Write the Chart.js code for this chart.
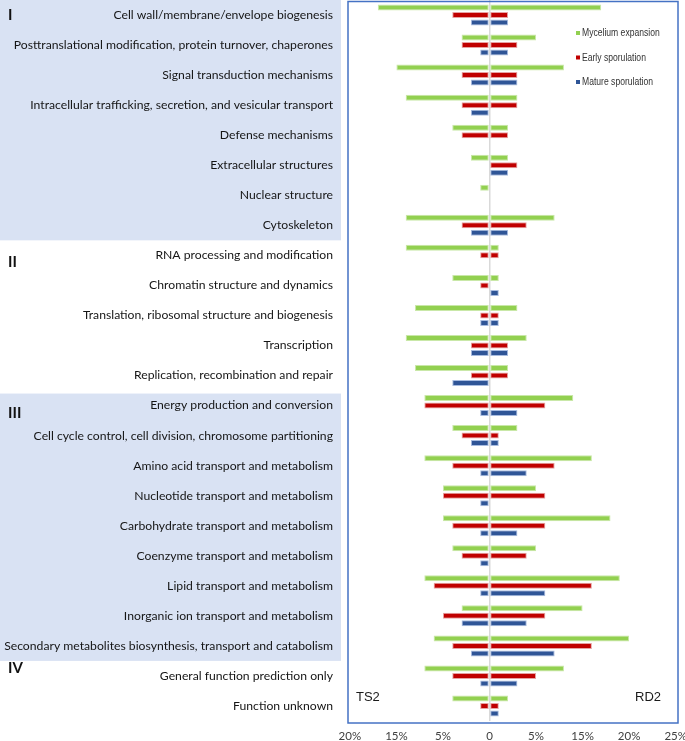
<!DOCTYPE html>
<html>
<head>
<meta charset="utf-8">
<script src="https://cdn.jsdelivr.net/npm/chart.js@4"></script>
<style>
  html, body { margin: 0; padding: 0; background: #ffffff; }
  #wrap { position: relative; width: 685px; height: 741px; }
</style>
</head>
<body>
<div id="wrap"><canvas id="c" width="685" height="741"></canvas></div>
<script>
// ---------- DATA ----------
const categories = [
  'Cell wall/membrane/envelope biogenesis',
  'Posttranslational modification, protein turnover, chaperones',
  'Signal transduction mechanisms',
  'Intracellular trafficking, secretion, and vesicular transport',
  'Defense mechanisms',
  'Extracellular structures',
  'Nuclear structure',
  'Cytoskeleton',
  'RNA processing and modification',
  'Chromatin structure and dynamics',
  'Translation, ribosomal structure and biogenesis',
  'Transcription',
  'Replication, recombination and repair',
  'Energy production and conversion',
  'Cell cycle control, cell division, chromosome partitioning',
  'Amino acid transport and metabolism',
  'Nucleotide transport and metabolism',
  'Carbohydrate transport and metabolism',
  'Coenzyme transport and metabolism',
  'Lipid transport and metabolism',
  'Inorganic ion transport and metabolism',
  'Secondary metabolites biosynthesis, transport and catabolism',
  'General function prediction only',
  'Function unknown'
];

const seriesNames = ['Mycelium expansion', 'Early sporulation', 'Mature sporulation'];

// left side (TS2), magnitudes
const myceliumTS2 = [12, 3, 10, 9, 4, 2, 1, 9, 9, 4, 8, 9, 8, 7, 4, 7, 5, 5, 4, 7, 3, 6, 7, 4];
const earlyTS2    = [ 4, 3,  3, 3, 3, 0, 0, 3, 1, 1, 1, 2, 2, 7, 3, 4, 5, 4, 3, 6, 5, 4, 4, 1];
const matureTS2   = [ 2, 1,  2, 2, 0, 0, 0, 2, 0, 0, 1, 2, 4, 1, 2, 1, 1, 1, 1, 1, 3, 2, 1, 0];
// right side (RD2)
const myceliumRD2 = [12, 5,  8, 3, 2, 2, 0, 7, 1, 1, 3, 4, 2, 9, 3, 11, 5, 13, 5, 14, 10, 15, 8, 2];
const earlyRD2    = [ 2, 3,  3, 3, 2, 3, 0, 4, 1, 0, 1, 2, 2, 6, 1, 7, 6, 6, 4, 11, 6, 11, 5, 1];
const matureRD2   = [ 2, 2,  3, 0, 0, 2, 0, 2, 0, 1, 1, 2, 0, 3, 1, 4, 0, 3, 0, 6, 4, 7, 3, 1];

const tickValues = [-15, -10, -5, 0, 5, 10, 15, 20];
const tickLabels = ['20%', '15%', '5%', '0', '5%', '15%', '20%', '25%'];

const groupNames   = ['I', 'II', 'III', 'IV'];
const groupStart   = [0, 8, 13, 22];
const groupEnd     = [7, 12, 21, 23];
const groupShaded  = [true, false, true, false];

const sideLabels = ['TS2', 'RD2'];

// ---------- STYLE ----------
const fillColors   = ['#92D050', '#C00000', '#2F5597'];
const borderColors = ['#C9E8A8', '#E6A3A3', '#A8BCE0'];
const numeralShift = [0, 7, 8, -8];
const shadeColor = '#D9E2F3';

const toNeg = a => a.map(v => -v);
const leftSets = [myceliumTS2, earlyTS2, matureTS2];
const rightSets = [myceliumRD2, earlyRD2, matureRD2];

const datasets = [];
for (let i = 0; i < 3; i++) {
  const common = {
    stack: 's' + i,
    backgroundColor: fillColors[i],
    borderColor: borderColors[i],
    borderWidth: 1,
    borderSkipped: false,
    categoryPercentage: 0.75,
    barPercentage: 0.8
  };
  datasets.push(Object.assign({ label: seriesNames[i], data: toNeg(leftSets[i]) }, common));
  datasets.push(Object.assign({ label: seriesNames[i] + ' RD2', data: rightSets[i] }, common));
}

const decor = {
  id: 'decor',
  beforeDraw(chart) {
    const ctx = chart.ctx;
    const y = chart.scales.y;
    ctx.save();
    ctx.fillStyle = '#ffffff';
    ctx.fillRect(0, 0, chart.width, chart.height);
    const half = (y.getPixelForValue(1) - y.getPixelForValue(0)) / 2;
    for (let g = 0; g < groupNames.length; g++) {
      if (!groupShaded[g]) continue;
      let top = y.getPixelForValue(groupStart[g]) - half + 3;
      if (groupStart[g] === 0) top = 0;
      const bottom = y.getPixelForValue(groupEnd[g]) + half;
      ctx.fillStyle = shadeColor;
      ctx.fillRect(0, top, chart.chartArea.left - 7, bottom - top);
    }
    ctx.restore();
  },
  afterDraw(chart) {
    const ctx = chart.ctx;
    const ca = chart.chartArea;
    const y = chart.scales.y;
    ctx.save();
    // box
    ctx.strokeStyle = '#4472C4';
    ctx.lineWidth = 1.5;
    ctx.strokeRect(ca.left, ca.top + 1.5, ca.right - ca.left, ca.bottom - ca.top + 0.5);
    // side labels
    ctx.fillStyle = '#1a1a1a';
    ctx.font = '13px "Liberation Sans", Arial, sans-serif';
    ctx.textBaseline = 'middle';
    ctx.textAlign = 'left';
    ctx.fillText(sideLabels[0], ca.left + 8, ca.bottom - 24);
    ctx.textAlign = 'right';
    ctx.fillText(sideLabels[1], ca.right - 17, ca.bottom - 24);
    // legend (narrow text via horizontal scaling)
    ctx.font = '11px "Liberation Sans", Arial, sans-serif';
    ctx.textAlign = 'left';
    for (let i = 0; i < 3; i++) {
      const ly = ca.top + 33 + i * 24.5;
      ctx.fillStyle = fillColors[i];
      ctx.fillRect(ca.right - 102, ly - 2, 4, 4);
      ctx.fillStyle = '#333333';
      const tx = ca.right - 96;
      ctx.save();
      ctx.translate(tx, ly);
      ctx.scale(0.78, 1);
      ctx.fillText(seriesNames[i], 0, 0);
      ctx.restore();
    }
    // group numerals
    ctx.fillStyle = '#111111';
    ctx.font = 'bold 15px Lato, "Liberation Sans", sans-serif';
    ctx.textAlign = 'left';
    for (let g = 0; g < groupNames.length; g++) {
      ctx.fillText(groupNames[g], 8, y.getPixelForValue(groupStart[g]) + numeralShift[g]);
    }
    ctx.restore();
  }
};

new Chart(document.getElementById('c'), {
  type: 'bar',
  data: { labels: categories, datasets: datasets },
  options: {
    indexAxis: 'y',
    responsive: false,
    animation: false,
    layout: { padding: { top: 0, right: 7, bottom: 0, left: 0 } },
    plugins: { legend: { display: false }, tooltip: { enabled: false } },
    scales: {
      y: {
        stacked: true,
        grid: { display: false, drawTicks: false },
        border: { display: false },
        ticks: {
          color: '#151515',
          font: { family: 'Lato, "Liberation Sans", sans-serif', size: 12.2 },
          padding: 15,
          autoSkip: false
        },
        afterFit(s) { s.width = 348; s.paddingTop = 0; s.paddingBottom = 0; }
      },
      x: {
        stacked: true,
        min: -15.2,
        max: 20.25,
        z: 1,
        afterBuildTicks(s) { s.ticks = tickValues.map(v => ({ value: v })); },
        grid: {
          drawTicks: false,
          lineWidth: 1.5,
          color: c => (c.tick && c.tick.value === 0 ? '#D9D9D9' : 'rgba(0,0,0,0)')
        },
        border: { display: false },
        ticks: {
          color: '#404040',
          font: { family: 'Lato, "Liberation Sans", sans-serif', size: 11.5 },
          padding: 8,
          maxRotation: 0,
          autoSkip: false,
          callback: (v) => tickLabels[tickValues.indexOf(v)]
        },
        afterFit(s) { s.height = 20; s.paddingLeft = 0; s.paddingRight = 0; }
      }
    }
  },
  plugins: [decor]
});
</script>
</body>
</html>
